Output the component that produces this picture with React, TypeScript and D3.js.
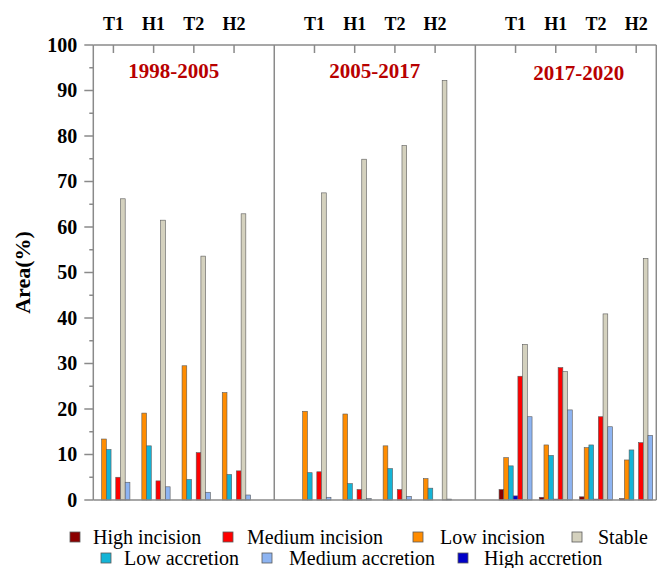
import React from "react";
import * as d3 from "d3";

// ---- data ----
const periods = ["1998-2005", "2005-2017", "2017-2020"];
const categories = ["T1", "H1", "T2", "H2"];
const yTicks = [0, 10, 20, 30, 40, 50, 60, 70, 80, 90, 100];

// values per group: period1 T1,H1,T2,H2 | period2 ... | period3 ...
const highIncision = [0, 0, 0, 0, 0, 0, 0, 0, 2.3, 0.6, 0.7, 0.3];
const mediumIncision = [5.0, 4.2, 10.4, 6.4, 6.2, 2.3, 2.3, 0, 27.2, 29.1, 18.3, 12.6];
const lowIncision = [13.4, 19.1, 29.5, 23.6, 19.5, 18.9, 11.9, 4.7, 9.3, 12.1, 11.5, 8.8];
const stable = [66.2, 61.5, 53.6, 62.9, 67.5, 74.9, 77.9, 92.2, 34.2, 28.2, 40.9, 53.1];
const lowAccretion = [11.1, 11.9, 4.5, 5.6, 6.0, 3.6, 6.9, 2.6, 7.5, 9.8, 12.1, 11.0];
const mediumAccretion = [3.9, 2.9, 1.7, 1.1, 0.6, 0.3, 0.8, 0.2, 18.3, 19.8, 16.1, 14.2];
const highAccretion = [0, 0, 0, 0, 0, 0, 0, 0, 0.9, 0.2, 0.2, 0];

type Series = { name: string; values: number[]; color: string };

const series: Record<string, Series> = {
  hi: { name: "High incision", values: highIncision, color: "#8b0000" },
  mi: { name: "Medium incision", values: mediumIncision, color: "#ff0000" },
  li: { name: "Low incision", values: lowIncision, color: "#ff8c00" },
  st: { name: "Stable", values: stable, color: "#d4d1be" },
  la: { name: "Low accretion", values: lowAccretion, color: "#14b4d6" },
  ma: { name: "Medium accretion", values: mediumAccretion, color: "#8db4f2" },
  ha: { name: "High accretion", values: highAccretion, color: "#0000c8" },
};

// order of bars inside a group
const barOrder = ["hi", "li", "la", "ha", "mi", "st", "ma"];
// legend rows
const legendRows = [
  ["hi", "mi", "li", "st"],
  ["la", "ma", "ha"],
];

const W = 657;
const H = 568;
const left = 93.3;
const right = 656.3;
const top = 45;
const bottom = 500;
const axisColor = "#8a8a8a";
const serif = "'Liberation Serif', 'Times New Roman', serif";

export default function App() {
  const x = d3.scaleLinear().domain([0.5, 14.5]).range([left, right]);
  const y = d3.scaleLinear().domain([0, 100]).range([bottom, top]);
  const groupWidth = 33;
  const inner = d3
    .scaleBand<string>()
    .domain(barOrder)
    .range([-groupWidth / 2, groupWidth / 2])
    .padding(0);

  const groupPos = (g: number) => {
    const p = Math.floor(g / 4);
    const i = g % 4;
    return p * 5 + i + 1;
  };

  const minorTicks = d3.range(5, 100, 10);

  const legendX: Record<string, [number, number]> = {
    hi: [70, 93],
    mi: [223, 247],
    li: [413, 440],
    st: [572, 598],
    la: [101, 124],
    ma: [262, 289],
    ha: [458, 484],
  };
  const legendY = [537, 558];

  return (
    <svg
      width={W}
      height={H}
      style={{ position: "absolute", left: 0, top: 0, background: "#fff" }}
    >
      {/* bars */}
      {d3.range(12).map((g) => {
        const cx = x(groupPos(g));
        return (
          <g key={g}>
            {barOrder.map((k) => {
              const v = series[k].values[g];
              if (v <= 0) return null;
              return (
                <rect
                  key={k}
                  x={cx + (inner(k) as number)}
                  y={y(v)}
                  width={inner.bandwidth()}
                  height={y(0) - y(v)}
                  fill={series[k].color}
                  stroke="#5a5a5a"
                  strokeWidth={0.6}
                />
              );
            })}
          </g>
        );
      })}

      {/* frame */}
      <line x1={left} x2={right} y1={top} y2={top} stroke={axisColor} strokeWidth={1.5} />
      <line x1={left} x2={right} y1={bottom} y2={bottom} stroke={axisColor} strokeWidth={1.5} />
      <line x1={left} x2={left} y1={top} y2={bottom} stroke={axisColor} strokeWidth={1.5} />
      <line x1={right} x2={right} y1={top} y2={bottom} stroke={axisColor} strokeWidth={1.5} />
      {[5, 10].map((d) => (
        <line key={d} x1={x(d)} x2={x(d)} y1={top} y2={bottom} stroke={axisColor} strokeWidth={1.5} />
      ))}

      {/* top ticks and labels */}
      {d3.range(12).map((g) => {
        const cx = x(groupPos(g));
        return (
          <g key={"t" + g}>
            <line x1={cx} x2={cx} y1={top} y2={top + 8} stroke={axisColor} strokeWidth={1.5} />
            <text
              x={cx}
              y={30}
              textAnchor="middle"
              fontFamily={serif}
              fontWeight="bold"
              fontSize={18}
              fill="#000"
            >
              {categories[g % 4]}
            </text>
          </g>
        );
      })}

      {/* y axis */}
      {yTicks.map((t) => (
        <g key={"y" + t}>
          <line x1={left - 9} x2={left} y1={y(t)} y2={y(t)} stroke={axisColor} strokeWidth={1.5} />
          <text
            x={left - 16}
            y={y(t)}
            dy="0.34em"
            textAnchor="end"
            fontFamily={serif}
            fontWeight="bold"
            fontSize={20}
          >
            {t}
          </text>
        </g>
      ))}
      {minorTicks.map((t) => (
        <line key={"m" + t} x1={left - 4} x2={left} y1={y(t)} y2={y(t)} stroke={axisColor} strokeWidth={1.5} />
      ))}
      <text
        transform={`translate(30, ${(top + bottom) / 2}) rotate(-90)`}
        textAnchor="middle"
        fontFamily={serif}
        fontWeight="bold"
        fontSize={22}
      >
        Area(%)
      </text>

      {/* period titles */}
      {periods.map((p, i) => (
        <text
          key={p}
          x={(x(i * 5 + 0.5) + x(i * 5 + 4.5)) / 2 + (i === 2 ? 3 : 0)}
          y={i === 2 ? 80 : 78}
          textAnchor="middle"
          fontFamily={serif}
          fontWeight="bold"
          fontSize={21}
          fill="#b80000"
        >
          {p}
        </text>
      ))}

      {/* legend */}
      {legendRows.map((row, ri) =>
        row.map((k) => (
          <g key={"l" + k}>
            <rect
              x={legendX[k][0]}
              y={legendY[ri] - 5}
              width={10}
              height={10}
              fill={series[k].color}
              stroke="#5a5a5a"
              strokeWidth={0.8}
            />
            <text
              x={legendX[k][1]}
              y={legendY[ri] + 7}
              fontFamily={serif}
              fontSize={20}
              fill="#000"
            >
              {series[k].name}
            </text>
          </g>
        ))
      )}
    </svg>
  );
}
